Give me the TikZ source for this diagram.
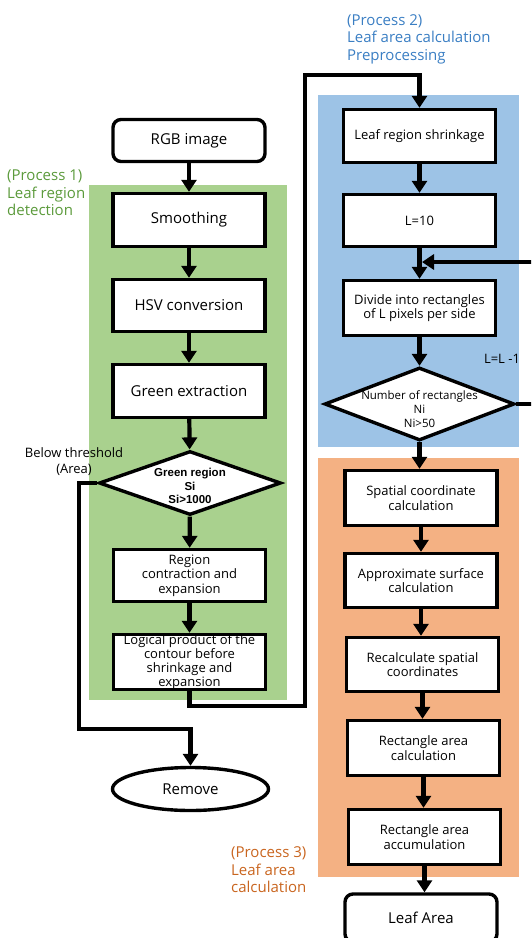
\documentclass[tikz,border=0pt]{standalone}
\usepackage{fontspec}
\setmainfont{Open Sans}
\newfontfamily\arialfont{Liberation Sans}
\usetikzlibrary{arrows.meta,shapes.geometric}
\definecolor{gfill}{HTML}{A9D18E}
\definecolor{bfill}{HTML}{9DC3E6}
\definecolor{ofill}{HTML}{F4B183}
\definecolor{gtext}{HTML}{5B9A3B}
\definecolor{btext}{HTML}{3A7EC3}
\definecolor{otext}{HTML}{C9651F}
\begin{document}
\begin{tikzpicture}[x=1pt,y=-1pt,
  box/.style={draw, line width=3.4pt, fill=white, align=center, inner sep=0pt,
    minimum width=152pt, font=\fontsize{13}{14.5}\selectfont},
  bigbox/.style={box, font=\fontsize{15}{17}\selectfont},
  dia/.style={draw, line width=3.4pt, fill=white, shape=diamond, inner sep=0pt},
  dtext/.style={align=center, inner sep=0pt},
  arr/.style={line width=4.2pt, -{Triangle[length=12pt,width=15pt]}},
  lbl/.style={align=left, inner sep=0pt, anchor=west, font=\fontsize{15}{17.5}\selectfont},
]
\useasboundingbox (0,0) rectangle (531,938);
\clip (0,0) rectangle (531,938);
% backgrounds
\fill[gfill] (89,185) rectangle (287,700);
\fill[bfill] (318,95) rectangle (519,447);
\fill[ofill] (318,458) rectangle (519,877);

% left column
\node[bigbox, rounded corners=8pt, minimum height=42pt] (rgb) at (189,140.5) {RGB image};
\node[bigbox, minimum height=53pt] (smooth) at (189,220) {Smoothing};
\node[bigbox, minimum height=52pt] (hsv) at (189,305.5) {HSV conversion};
\node[bigbox, minimum height=53pt] (gext) at (189,391) {Green extraction};
\node[dia, minimum width=182pt, minimum height=64pt] (d1) at (190,483) {};
\node[dtext, font=\arialfont\bfseries\fontsize{11.5}{13.5}\selectfont] (d1t) at (190,486) {Green region\\Si\\Si>1000};
\node[box, minimum height=52pt] (reg) at (189.5,575.5) {Region\\contraction and\\expansion};
\node[box, minimum height=53pt, font=\fontsize{13}{14}\selectfont] (logp) at (189.5,662) {Logical product of the\\contour before\\shrinkage and\\expansion};
\node[draw, line width=3.4pt, fill=white, ellipse, minimum width=156pt, minimum height=43pt, inner sep=0pt,
  font=\fontsize{15}{17}\selectfont] (remove) at (190.5,789) {Remove};

% right column
\node[box, minimum height=53pt] (shr) at (419.5,136) {Leaf region shrinkage};
\node[box, minimum height=52pt] (l10) at (419.5,220.5) {L=10};
\node[box, minimum height=55pt] (div) at (419.5,308) {Divide into rectangles\\of L pixels per side};
\node[dia, minimum width=190pt, minimum height=73pt] (d2) at (419.5,404) {};
\node[dtext, font=\fontsize{11.5}{14}\selectfont] (d2t) at (419.5,409) {Number of rectangles\\Ni\\Ni>50};
\node[box, minimum height=55pt] (spat) at (421,498) {Spatial coordinate\\calculation};
\node[box, minimum height=54pt] (approx) at (421,580.5) {Approximate surface\\calculation};
\node[box, minimum height=54pt] (recalc) at (422.5,664.5) {Recalculate spatial\\coordinates};
\node[box, minimum height=55pt] (rarea) at (423.5,748) {Rectangle area\\calculation};
\node[box, minimum height=55pt] (racc) at (424.5,837) {Rectangle area\\accumulation};
\node[bigbox, rounded corners=8pt, minimum height=48pt] (leaf) at (421,918) {Leaf Area};

% labels
\node[lbl, text=gtext] (p1) at (7,193) {(Process 1)\\Leaf region\\detection};
\node[lbl, text=btext] (p2) at (347,39) {(Process 2)\\Leaf area calculation\\Preprocessing};
\node[lbl, text=otext] (p3) at (231,870) {(Process 3)\\Leaf area\\calculation};
\node[align=center, inner sep=0pt, font=\fontsize{13}{16}\selectfont] (thr) at (74,462) {Below threshold\\(Area)};
\node[inner sep=0pt, font=\fontsize{13}{15}\selectfont] (lm1) at (502,359) {L=L -1};

% connectors
\draw[arr] (rgb) -- (smooth);
\draw[arr] (smooth) -- (hsv);
\draw[arr] (hsv) -- (gext);
\draw[arr] (gext) -- (d1);
\draw[arr] (d1) -- (reg);
\draw[arr] (reg) -- (logp);
\coordinate (c3) at (79,483);
\coordinate (c4) at (79,729);
\draw[arr] (d1.west) -- (c3) -- (c4) -| (remove.north);
\coordinate (c1) at (305,706);
\coordinate (c2) at (305,75);
\draw[arr] (logp.south) |- (c1) -- (c2) -| (shr.north);
\draw[arr] (shr) -- (l10);
\draw[arr] (l10) -- (div);
\draw[arr] (div) -- (d2);
\draw[arr] (d2.south) -- (d2.south |- spat.north);
\draw[arr] (spat.south) -- (spat.south |- approx.north);
\draw[arr] (approx.south) -- (approx.south |- recalc.north);
\draw[arr] (recalc.south) -- (recalc.south |- rarea.north);
\draw[arr] (rarea.south) -- (rarea.south |- racc.north);
\draw[arr] (racc.south) -- (racc.south |- leaf.north);
\coordinate (c5) at (540,404);
\coordinate (c6) at (540,262);
\coordinate (c7) at (422,262);
\draw[arr] (d2.east) -- (c5) -- (c6) -- (c7);
\end{tikzpicture}
\end{document}
